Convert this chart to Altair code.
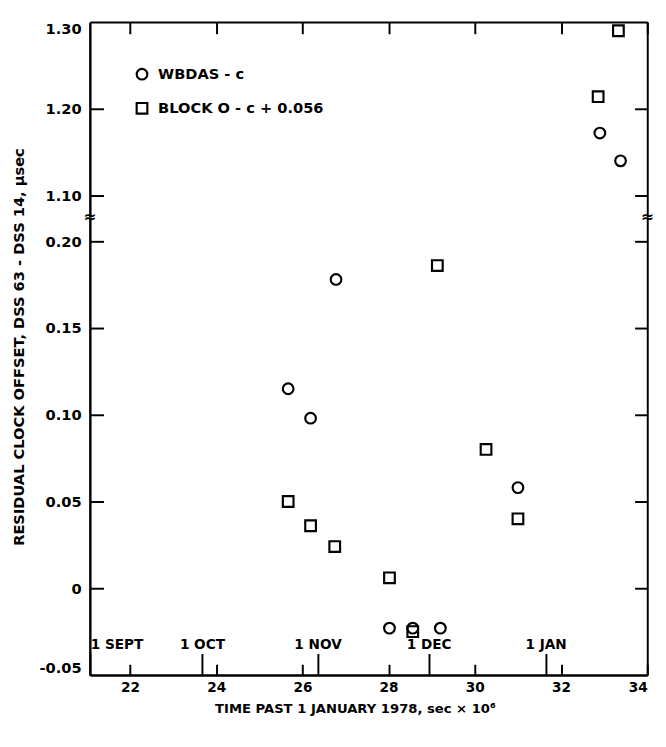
import altair as alt
import pandas as pd

# ---------------- data ----------------
SERIES = ["WBDAS - c", "BLOCK O - c + 0.056"]
SHAPES = ["circle", "square"]

WB_TIME = [25.67, 26.19, 26.78, 28.02, 28.56, 29.20, 31.00, 32.90, 33.38]
WB_OFFSET = [0.115, 0.098, 0.178, -0.023, -0.023, -0.023, 0.058, 1.172, 1.140]

BL_TIME = [25.67, 26.19, 26.75, 28.02, 28.56, 29.13, 30.26, 31.00, 32.86, 33.33]
BL_OFFSET = [0.050, 0.036, 0.024, 0.006, -0.025, 0.186, 0.080, 0.040, 1.214, 1.290]

X_DOMAIN = [21.07, 34.0]
X_TICKS = [22, 24, 26, 28, 30, 32, 34]
MONTH_X = [21.08, 23.67, 26.35, 28.93, 31.64]
MONTH_LABELS = ["1 SEPT", "1 OCT", "1 NOV", "1 DEC", "1 JAN"]

UPPER_DOMAIN = [1.0753, 1.30]
UPPER_TICKS = [1.10, 1.20, 1.30]
UPPER_INNER_TICKS = [1.10, 1.20]
LOWER_DOMAIN = [-0.05, 0.214]
LOWER_TICKS = [-0.05, 0.0, 0.05, 0.10, 0.15, 0.20]
LOWER_INNER_TICKS = [0.0, 0.05, 0.10, 0.15, 0.20]
SPLIT = 0.6

X_TITLE = "TIME PAST 1 JANUARY 1978, sec \u00d7 10\u2076"
Y_TITLE = "RESIDUAL CLOCK OFFSET, DSS 63 - DSS 14, \u03bcsec"

# ---------------- tables ----------------
rows = [{"series": SERIES[0], "time": t, "offset": v} for t, v in zip(WB_TIME, WB_OFFSET)]
rows += [{"series": SERIES[1], "time": t, "offset": v} for t, v in zip(BL_TIME, BL_OFFSET)]
df = pd.DataFrame(rows)
up_df = df[df["offset"] > SPLIT]
lo_df = df[df["offset"] <= SPLIT]
brk_df = pd.DataFrame({"time": X_DOMAIN, "offset": [LOWER_DOMAIN[1]] * 2, "t": ["\u2248", "\u2248"]})

FONT = "DejaVu Sans"
W = 572
H_UP = 200
H_LO = 470

xs = alt.Scale(domain=X_DOMAIN, nice=False, zero=False)
ys_up = alt.Scale(domain=UPPER_DOMAIN, nice=False, zero=False)
ys_lo = alt.Scale(domain=LOWER_DOMAIN, nice=False, zero=False)
shape_scale = alt.Scale(domain=SERIES, range=SHAPES)

month_expr = " : ".join(
    f"abs(datum.value - {x}) < 0.005 ? '{l}'" for x, l in zip(MONTH_X, MONTH_LABELS)
) + " : ''"
lower_label_expr = ("datum.value == 0 ? '0' : (datum.value < 0 ? '-' : '') + "
                    "format(abs(datum.value), '.2f')")


def pts(data):
    return alt.Chart(data).mark_point(filled=False, color="black", strokeWidth=2.2,
                                      size=120, opacity=1)


def ghost(data):
    return alt.Chart(data).mark_point(opacity=0, size=1)


def tick_axis(orient, offset, size, values):
    return alt.Axis(orient=orient, offset=offset, tickSize=size, values=values,
                    domain=False, labels=False, grid=False, ticks=True,
                    tickColor="black", tickWidth=2, title=None)


def domain_axis(orient, width=2):
    return alt.Axis(orient=orient, domain=True, domainColor="black", domainWidth=width,
                    ticks=False, tickSize=0, labels=False, grid=False, title=None)


# ---------------- upper panel ----------------
up_main = pts(up_df).encode(
    x=alt.X("time:Q", scale=xs, axis=domain_axis("top", 2)),
    y=alt.Y("offset:Q", scale=ys_up,
            axis=alt.Axis(orient="left", values=UPPER_TICKS, format=".2f",
                          ticks=False, tickSize=0, domain=True, domainColor="black",
                          domainWidth=2.5, grid=False, labelFlush=True,
                          labelPadding=9, labelFontSize=15, title=None)),
    shape=alt.Shape("series:N", scale=shape_scale,
                    legend=alt.Legend(orient="none", legendX=46, legendY=46, title=None,
                                      labelFont=FONT, labelFontSize=15,
                                      labelFontWeight="bold", labelColor="black",
                                      labelLimit=400,
                                      symbolSize=120, symbolStrokeWidth=2.2,
                                      symbolStrokeColor="black",
                                      symbolFillColor="transparent",
                                      rowPadding=14, labelOffset=9, padding=0)),
)
up_ticks1 = ghost(up_df).encode(
    x=alt.X("time:Q", scale=xs, axis=tick_axis("top", -12, 12, X_TICKS)),
    y=alt.Y("offset:Q", scale=ys_up, axis=tick_axis("left", -14, 14, UPPER_INNER_TICKS)),
)
up_ticks2 = ghost(up_df).encode(
    x=alt.X("time:Q", scale=xs, axis=None),
    y=alt.Y("offset:Q", scale=ys_up, axis=domain_axis("right", 2)),
)
up_ticks3 = ghost(up_df).encode(
    x=alt.X("time:Q", scale=xs, axis=None),
    y=alt.Y("offset:Q", scale=ys_up, axis=tick_axis("right", -13, 13, UPPER_INNER_TICKS)),
)
upper = alt.layer(up_ticks1, up_ticks2, up_ticks3, up_main).resolve_axis(
    x="independent", y="independent").properties(width=W, height=H_UP)

# ---------------- lower panel ----------------
lo_main = pts(lo_df).encode(
    x=alt.X("time:Q", scale=xs,
            axis=alt.Axis(orient="bottom", values=X_TICKS, format="d", ticks=False,
                          tickSize=0, domain=True, domainColor="black", domainWidth=2.5,
                          grid=False, labelFlush=True, labelPadding=6, labelFontSize=14,
                          title=X_TITLE, titleFontSize=13.5, titlePadding=8,
                          titleX=272)),
    y=alt.Y("offset:Q", scale=ys_lo,
            axis=alt.Axis(orient="left", values=LOWER_TICKS, labelExpr=lower_label_expr,
                          ticks=False, tickSize=0, domain=True, domainColor="black",
                          domainWidth=2.5, grid=False, labelFlush=True, labelPadding=9,
                          labelFontSize=15, title=Y_TITLE, titleFontSize=15,
                          titleX=-73, titleY=133, titleAngle=270, titleAlign="center",
                          titleBaseline="middle")),
    shape=alt.Shape("series:N", scale=shape_scale, legend=None),
)
lo_ticks1 = ghost(lo_df).encode(
    x=alt.X("time:Q", scale=xs, axis=tick_axis("bottom", -11, 11, X_TICKS)),
    y=alt.Y("offset:Q", scale=ys_lo, axis=tick_axis("left", -14, 14, LOWER_INNER_TICKS)),
)
lo_months = ghost(lo_df).encode(
    x=alt.X("time:Q", scale=xs,
            axis=alt.Axis(orient="top", offset=-H_LO, values=MONTH_X, tickSize=22,
                          ticks=True, tickColor="black", tickWidth=2, domain=False,
                          labels=True, labelExpr=month_expr, labelPadding=2,
                          labelFlush=True, labelFontSize=14, grid=False, title=None)),
    y=alt.Y("offset:Q", scale=ys_lo, axis=domain_axis("right", 2)),
)
lo_ticks3 = ghost(lo_df).encode(
    x=alt.X("time:Q", scale=xs, axis=None),
    y=alt.Y("offset:Q", scale=ys_lo, axis=tick_axis("right", -13, 13, LOWER_INNER_TICKS)),
)
lo_break = alt.Chart(brk_df).mark_text(font=FONT, fontSize=16, fontWeight="bold",
                                       color="black", baseline="middle").encode(
    x=alt.X("time:Q", scale=xs, axis=None),
    y=alt.Y("offset:Q", scale=ys_lo, axis=None),
    text="t:N",
)
lower = alt.layer(lo_ticks1, lo_months, lo_ticks3, lo_break, lo_main).resolve_axis(
    x="independent", y="independent").properties(width=W, height=H_LO)

chart = alt.vconcat(upper, lower, spacing=0, bounds="flush").resolve_legend(
    shape="independent").properties(
    padding={"left": 3, "top": 4, "right": 4, "bottom": 4},
    background="white",
).configure(font=FONT).configure_view(stroke=None).configure_axis(
    labelFont=FONT, labelFontWeight="bold", labelColor="black",
    titleFont=FONT, titleFontWeight="bold", titleColor="black",
)

chart.save("out.html", embed_options={"renderer": "svg", "actions": False})
